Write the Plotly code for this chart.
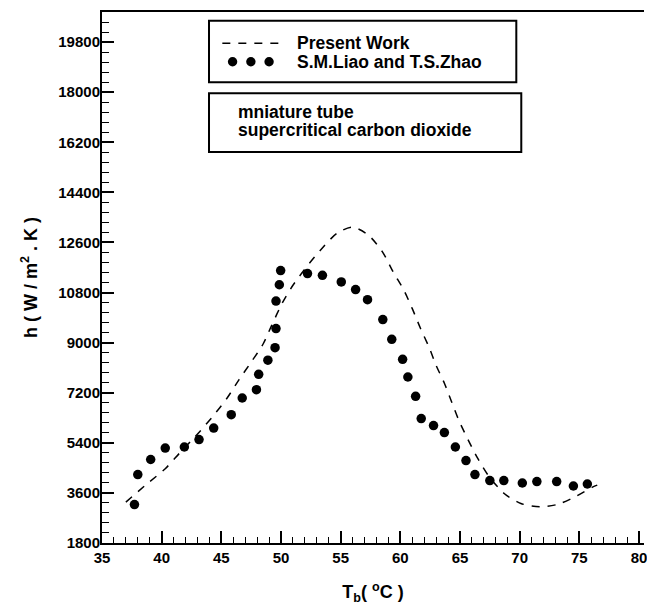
import plotly.graph_objects as go

# Present Work (dashed curve)
pw_x = [37.0, 38.7, 40.3, 41.5, 43.2, 44.4, 45.5, 46.5, 47.5, 48.5, 49.2, 50.1, 51.0, 52.1, 53.3,
        54.7, 56.0, 57.3, 58.5, 59.4, 60.3, 61.0, 61.7, 62.4, 63.0, 63.7, 64.3, 64.9, 65.7, 66.5,
        67.4, 68.7, 70.1, 71.7, 73.2, 74.6, 76.1, 76.5]
pw_y = [3270, 3900, 4470, 5030, 5810, 6410, 7020, 7680, 8300, 8950, 9600, 10420, 11060, 11700, 12320,
        12930, 13150, 12870, 12260, 11540, 10880, 10220, 9500, 8840, 8180, 7530, 6870, 6210, 5490, 4830,
        4210, 3580, 3220, 3100, 3190, 3450, 3810, 3880]

# S.M.Liao and T.S.Zhao (experimental dots)
exp_x = [37.72, 38.00, 39.08, 40.30, 41.90, 43.13, 44.36, 45.83, 46.75, 47.94, 48.13, 48.90, 49.50,
         49.58, 49.58, 49.86, 49.97, 52.22, 53.47, 55.05, 56.25, 57.25, 58.53, 59.28, 60.19, 60.63,
         61.28, 61.75, 62.78, 63.69, 64.61, 65.50, 66.25, 67.50, 68.67, 70.22, 71.44, 73.10, 74.50, 75.67]
exp_y = [3180, 4260, 4800, 5210, 5250, 5515, 5930, 6410, 7010, 7310, 7860, 8370, 8820,
         9505, 10495, 11080, 11590, 11480, 11420, 11180, 10905, 10545, 9830, 9120, 8400, 7765,
         7070, 6270, 6020, 5767, 5250, 4760, 4260, 4042, 4042, 3956, 4006, 4006, 3848, 3920]

series_names = ["Present Work", "S.M.Liao and T.S.Zhao"]
note_lines = ["mniature tube", "supercritical carbon dioxide"]
y_ticks = [1800, 3600, 5400, 7200, 9000, 10800, 12600, 14400, 16200, 18000, 19800]
x_ticks = [35, 40, 45, 50, 55, 60, 65, 70, 75, 80]

W, H = 647, 605
# plot area in page pixels
L, R, T, B = 102, 647, 12, 543
FONT = "Liberation Sans, Arial, Helvetica, sans-serif"


def px(x):
    return (x - L) / (R - L)


def py(y):
    return (B - y) / (B - T)


fig = go.Figure()
fig.add_trace(go.Scatter(x=pw_x, y=pw_y, mode="lines", name=series_names[0],
                         line=dict(color="black", width=1.5, dash="8px,8px", shape="spline", smoothing=0.8),
                         showlegend=False))
fig.add_trace(go.Scatter(x=exp_x, y=exp_y, mode="markers", name=series_names[1],
                         marker=dict(color="black", size=9.5, symbol="circle"),
                         showlegend=False))

shapes = []
shapes.append(dict(type="rect", xref="paper", yref="paper", x0=px(209.6), x1=px(518.6),
                   y0=py(82.3), y1=py(20.7), line=dict(color="black", width=2), fillcolor="white", layer="above"))
shapes.append(dict(type="rect", xref="paper", yref="paper", x0=px(209.6), x1=px(523.6),
                   y0=py(152), y1=py(93.3), line=dict(color="black", width=2), fillcolor="white", layer="above"))
shapes.append(dict(type="line", xref="paper", yref="paper", x0=px(223), x1=px(280),
                   y0=py(43.3), y1=py(43.3), line=dict(color="black", width=1.5, dash="8px,8px"), layer="above"))
for cx in (233.3, 251.7, 270.0):
    shapes.append(dict(type="circle", xref="paper", yref="paper", xsizemode="pixel", ysizemode="pixel",
                       xanchor=px(cx), yanchor=py(61.7), x0=-4.7, x1=4.7, y0=-4.7, y1=4.7,
                       fillcolor="black", line=dict(color="black", width=0), layer="above"))

annotations = [
    dict(text=series_names[0], x=px(296), y=py(43.3)),
    dict(text=series_names[1], x=px(296), y=py(61.7)),
    dict(text=note_lines[0], x=px(236.5), y=py(112.5)),
    dict(text=note_lines[1], x=px(236.5), y=py(130)),
]
for a in annotations:
    a.update(xref="paper", yref="paper", xanchor="left", yanchor="middle", showarrow=False,
             font=dict(family=FONT, size=17.5, color="black", weight="bold"))

fig.update_layout(
    width=W, height=H,
    margin=dict(l=L, r=W - R, t=T, b=H - B, pad=0),
    plot_bgcolor="white", paper_bgcolor="white",
    shapes=shapes, annotations=annotations,
    font=dict(family=FONT, color="black"),
)
fig.update_xaxes(
    range=[35, 35 + (R - L) / 12.0], tickvals=x_ticks, ticktext=[str(v) for v in x_ticks],
    ticks="inside", ticklen=12, tickwidth=2, tickcolor="black",
    minor=dict(dtick=1, ticks="inside", ticklen=6, tickwidth=1.2, tickcolor="black", showgrid=False),
    showline=True, linewidth=2, linecolor="black", mirror=True,
    showgrid=False, zeroline=False, ticklabeloverflow="allow",
    tickfont=dict(family=FONT, size=15, color="black", weight="bold"),
    title=dict(text="T<sub>b</sub>( <sup>o</sup>C )", standoff=22,
               font=dict(family=FONT, size=18, color="black", weight="bold")),
)
fig.update_yaxes(
    range=[1800, 20880], tickvals=y_ticks, ticktext=[str(v) for v in y_ticks],
    ticks="inside", ticklen=12, tickwidth=2, tickcolor="black",
    minor=dict(dtick=360, tick0=1800, ticks="inside", ticklen=7, tickwidth=1.2, tickcolor="black", showgrid=False),
    showline=True, linewidth=2, linecolor="black",
    showgrid=False, zeroline=False, ticklabelstandoff=-3,
    tickfont=dict(family=FONT, size=15, color="black", weight="bold"),
    title=dict(text="h ( W / m<sup>2</sup> . K )", standoff=16,
               font=dict(family=FONT, size=18, color="black", weight="bold")),
)

page_style = ("document.documentElement.style.overflow='hidden';"
              "document.body.style.overflow='hidden';"
              "document.body.style.margin='0';")
fig.write_html("out.html", post_script=page_style, config={"displayModeBar": False})
